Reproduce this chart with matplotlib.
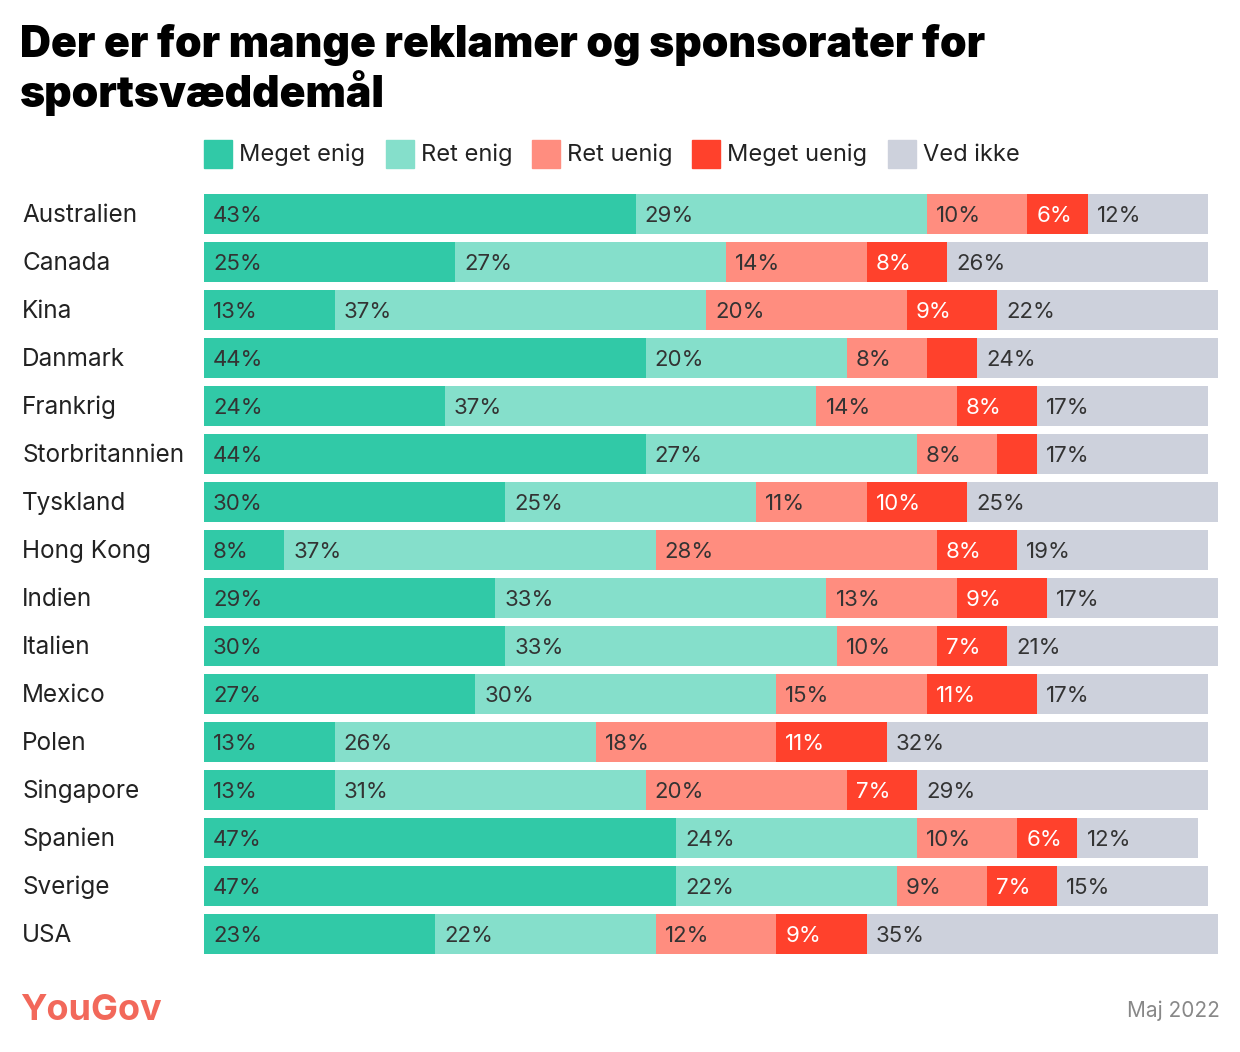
import matplotlib.pyplot as plt
from matplotlib.patches import Rectangle

# survey data, percent
countries = ['Australien', 'Canada', 'Kina', 'Danmark', 'Frankrig', 'Storbritannien',
             'Tyskland', 'Hong Kong', 'Indien', 'Italien', 'Mexico', 'Polen',
             'Singapore', 'Spanien', 'Sverige', 'USA']
categories = ['Meget enig', 'Ret enig', 'Ret uenig', 'Meget uenig', 'Ved ikke']
meget_enig = [43, 25, 13, 44, 24, 44, 30, 8, 29, 30, 27, 13, 13, 47, 47, 23]
ret_enig = [29, 27, 37, 20, 37, 27, 25, 37, 33, 33, 30, 26, 31, 24, 22, 22]
ret_uenig = [10, 14, 20, 8, 14, 8, 11, 28, 13, 10, 15, 18, 20, 10, 9, 12]
meget_uenig = [6, 8, 9, 5, 8, 4, 10, 8, 9, 7, 11, 11, 7, 6, 7, 9]
ved_ikke = [12, 26, 22, 24, 17, 17, 25, 19, 17, 21, 17, 32, 29, 12, 15, 35]
# small segments shown without a label
hide_label = {(3, 3), (5, 3)}

colors = ['#31c9a7', '#85dfcb', '#ff8d7f', '#ff412c', '#cdd1dc']
series = [meget_enig, ret_enig, ret_uenig, meget_uenig, ved_ikke]

plt.rcParams['font.family'] = ['Inter', 'DejaVu Sans']

W, H = 1240, 1052
fig = plt.figure(figsize=(W / 100, H / 100), dpi=100)

# axes: 0% at x=204px, 10.04 px per percent; rows 48px apart, first center at y=214
ax = fig.add_axes([204 / W, 1 - 958 / H, 1004 / W, (958 - 190) / H])
ax.set_xlim(0, 100)
ax.set_ylim(len(countries) - 0.5, -0.5)
ax.axis('off')

y = list(range(len(countries)))
left = [0] * len(countries)
for k, (vals, col) in enumerate(zip(series, colors)):
    ax.barh(y, vals, left=left, height=40 / 48, color=col, clip_on=False, linewidth=0)
    for i, v in enumerate(vals):
        if (i, k) not in hide_label:
            tc = 'white' if k == 3 else '#333333'
            ax.text(left[i] + 0.9, i + 0.04, f'{v}%', va='center', ha='left',
                    fontsize=16, color=tc)
        left[i] += v

for i, c in enumerate(countries):
    fig.text(22 / W, 1 - (222 + 48 * i) / H, c, ha='left', va='baseline',
             fontsize=17.5, color='#222222')

# title
fig.text(20 / W, 1 - 45 / H, 'Der er for mange reklamer og sponsorater for',
         fontsize=30.8, fontweight='black', ha='left', va='center', color='black')
fig.text(20 / W, 1 - 93 / H, 'sportsvæddemål',
         fontsize=30.8, fontweight='black', ha='left', va='center', color='black')

# legend
legend_x = [204, 386, 532, 692, 888]
for lx, lab, col in zip(legend_x, categories, colors):
    fig.patches.append(Rectangle((lx / W, 1 - 168 / H), 28 / W, 28 / H,
                                 transform=fig.transFigure, color=col))
    fig.text((lx + 35) / W, 1 - 161 / H, lab, fontsize=17, ha='left',
             va='baseline', color='#222222')

# footer
fig.text(20 / W, 1 - 1010 / H, 'YouGov', fontsize=26, fontweight='bold',
         color='#f2685a', ha='left', va='center')
fig.text(1220 / W, 1 - 1011 / H, 'Maj 2022', fontsize=15, color='#888888',
         ha='right', va='center')

fig.savefig('out.png', dpi=100, facecolor='white')
